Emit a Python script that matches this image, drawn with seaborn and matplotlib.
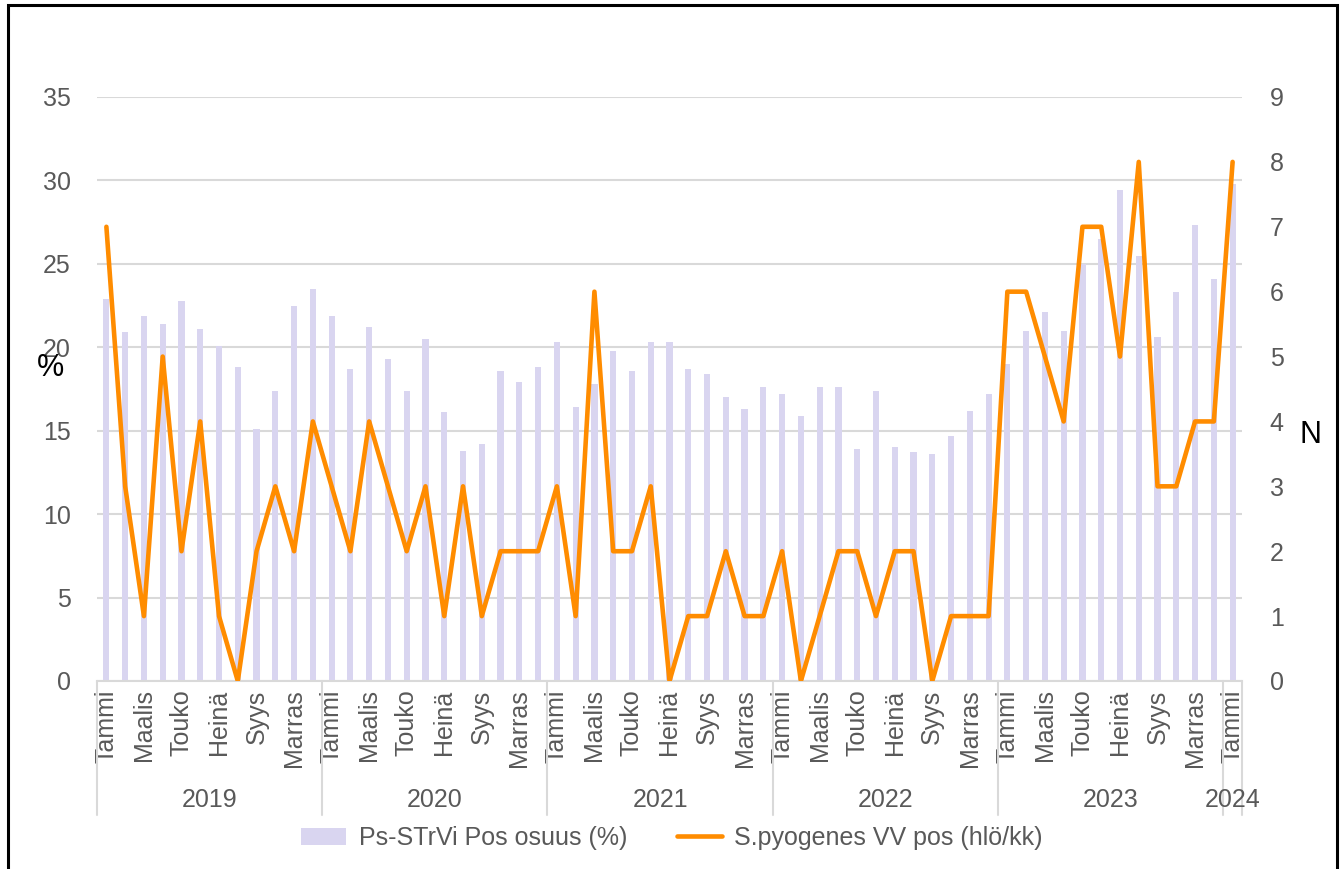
import numpy as np
import pandas as pd
import matplotlib
matplotlib.use("Agg")
import matplotlib.pyplot as plt
from matplotlib.patches import Rectangle, Patch
from matplotlib.lines import Line2D
import matplotlib.transforms as mtransforms
import seaborn as sns

# ---- data ----
months_short = ["Tammi", "Maalis", "Touko", "Heinä", "Syys", "Marras"]
years = ["2019", "2020", "2021", "2022", "2023", "2024"]
pct_positive = [
    22.9, 20.9, 21.9, 21.4, 22.8, 21.1, 20.1, 18.8, 15.1, 17.4, 22.5, 23.5,   # 2019
    21.9, 18.7, 21.2, 19.3, 17.4, 20.5, 16.1, 13.8, 14.2, 18.6, 17.9, 18.8,   # 2020
    20.3, 16.4, 17.8, 19.8, 18.6, 20.3, 20.3, 18.7, 18.4, 17.0, 16.3, 17.6,   # 2021
    17.2, 15.9, 17.6, 17.6, 13.9, 17.4, 14.0, 13.7, 13.6, 14.7, 16.2, 17.2,   # 2022
    19.0, 21.0, 22.1, 21.0, 25.0, 26.5, 29.4, 25.5, 20.6, 23.3, 27.3, 24.1,   # 2023
    29.8,                                                                     # 2024
]
n_positive = [
    7, 3, 1, 5, 2, 4, 1, 0, 2, 3, 2, 4,
    3, 2, 4, 3, 2, 3, 1, 3, 1, 2, 2, 2,
    3, 1, 6, 2, 2, 3, 0, 1, 1, 2, 1, 1,
    2, 0, 1, 2, 2, 1, 2, 2, 0, 1, 1, 1,
    6, 6, 5, 4, 7, 7, 5, 8, 3, 3, 4, 4,
    8,
]
bar_label = "Ps-STrVi Pos osuus (%)"
line_label = "S.pyogenes VV pos (hlö/kk)"

idx = list(range(len(pct_positive)))
df = pd.DataFrame({"idx": idx, "pct": pct_positive, "n": n_positive})

# ---- style ----
BAR_C = "#D9D5F0"
LINE_C = "#FF8C00"
TXT_C = "#595959"
GRID_C = "#D9D9D9"
FS = 18

sns.set_theme(style="white")
plt.rcParams["font.family"] = ["Liberation Sans", "DejaVu Sans"]

W, H = 1344, 869
fig = plt.figure(figsize=(W / 100, H / 100), dpi=100)
x0, x1, yb, yt = 97, 1242, 681, 97
ax = fig.add_axes([x0 / W, 1 - yb / H, (x1 - x0) / W, (yb - yt) / H])

sns.barplot(data=df, x="idx", y="pct", ax=ax, color=BAR_C, saturation=1,
            width=0.33, edgecolor="none", linewidth=0)
ax.set_xlim(-0.5, len(idx) - 0.5)
ax.set_ylim(0, 35)
ax.set_yticks(range(0, 36, 5))
ax.grid(axis="y", color=GRID_C, lw=1.5)
ax.grid(axis="x", visible=False)
ax.set_axisbelow(True)
for s in ["top", "right", "left"]:
    ax.spines[s].set_visible(False)
ax.spines["bottom"].set_color(GRID_C)
ax.spines["bottom"].set_linewidth(1.5)
ax.set_xlabel("")
ax.set_ylabel("")

tick_pos = list(range(0, len(idx), 2))
tick_lab = [months_short[(i % 12) // 2] for i in tick_pos]
ax.set_xticks(tick_pos)
ax.set_xticklabels(tick_lab, rotation=90, va="top", ha="center")
ax.tick_params(axis="x", length=0, pad=6, labelsize=FS, labelcolor=TXT_C)
ax.tick_params(axis="y", length=0, pad=19, labelsize=FS, labelcolor=TXT_C)

ax2 = ax.twinx()
sns.lineplot(data=df, x="idx", y="n", ax=ax2, color=LINE_C, lw=3.3,
             legend=False, solid_joinstyle="round", solid_capstyle="round")
ax2.set_ylim(0, 9)
ax2.set_yticks(range(0, 10))
ax2.set_xlim(-0.5, len(idx) - 0.5)
ax2.grid(False)
for s in ["top", "right", "left", "bottom"]:
    ax2.spines[s].set_visible(False)
ax2.tick_params(axis="y", length=0, pad=20, labelsize=FS, labelcolor=TXT_C)
ax2.set_ylabel("")
ax2.set_xlabel("")

# year group labels and separators
trans = mtransforms.blended_transform_factory(ax.transData, ax.transAxes)
sep_bottom = -(815 - yb) / (yb - yt)
year_y = -(800 - yb) / (yb - yt)
bounds = [-0.5, 11.5, 23.5, 35.5, 47.5, 59.5, 60.5]
for b in bounds:
    ax.add_line(Line2D([b, b], [0, sep_bottom], transform=trans, color=GRID_C,
                       lw=1.5, clip_on=False))
for i, y in enumerate(years):
    c = (bounds[i] + bounds[i + 1]) / 2
    ax.text(c, year_y, y, transform=trans, ha="center", va="center",
            fontsize=FS, color=TXT_C)

# axis titles
fig.text(50 / W, 1 - 368 / H, "%", ha="center", va="center", fontsize=22, color="black")
fig.text(1310 / W, 1 - 435 / H, "N", ha="center", va="center", fontsize=22, color="black")

# legend
handles = [Patch(facecolor=BAR_C, edgecolor="none"),
           Line2D([0], [0], color=LINE_C, lw=3.3)]
fig.legend(handles, [bar_label, line_label], loc="center", ncol=2,
           bbox_to_anchor=(0.5, 1 - 838 / H), frameon=False, fontsize=FS,
           labelcolor=TXT_C, handlelength=1.8, columnspacing=2.0, handletextpad=0.5)

# outer frame
fig.add_artist(Rectangle((8 / W, -0.05), (1337 - 8) / W, 1.05 - 5 / H,
                         transform=fig.transFigure, fill=False, edgecolor="black",
                         lw=2.2, clip_on=False))

fig.savefig("out.png", dpi=100)
